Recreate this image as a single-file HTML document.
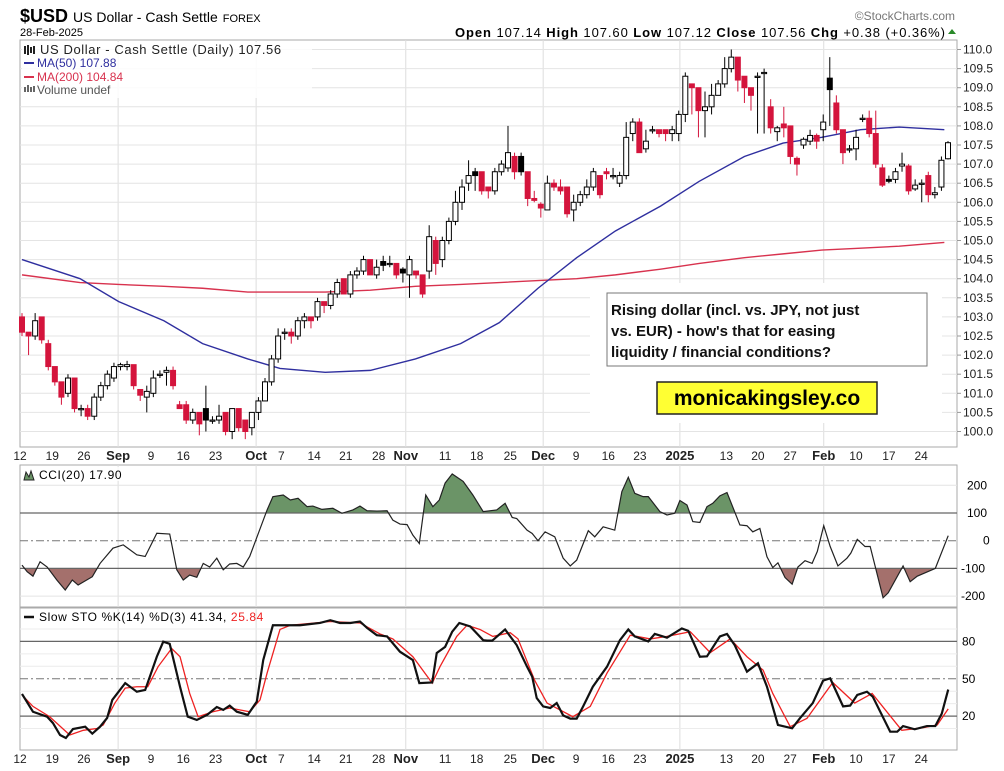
<!DOCTYPE html>
<html><head><meta charset="utf-8"><style>
html,body{margin:0;padding:0;background:#fff;}
svg{display:block;font-family:"Liberation Sans",sans-serif;}
</style></head><body>
<svg id="chart" width="1004" height="771" viewBox="0 0 1004 771" xmlns="http://www.w3.org/2000/svg">
<rect width="1004" height="771" fill="#fff"/>
<text x="20" y="22" font-size="18" font-weight="bold">$USD <tspan font-weight="normal" font-size="14">US Dollar - Cash Settle</tspan> <tspan font-weight="normal" font-size="11">FOREX</tspan></text>
<text x="20" y="36" font-size="11">28-Feb-2025</text>
<text x="955" y="20" font-size="12" fill="#777" text-anchor="end">©StockCharts.com</text>
<text x="455" y="37" font-size="13" textLength="490" lengthAdjust="spacing"><tspan font-weight="bold">Open</tspan> 107.14 <tspan font-weight="bold">High</tspan> 107.60 <tspan font-weight="bold">Low</tspan> 107.12 <tspan font-weight="bold">Close</tspan> 107.56 <tspan font-weight="bold">Chg</tspan> +0.38 (+0.36%)</text>
<path d="M948 34 L952 29 L956 34 Z" fill="#2a8a2a"/>
<g id="main"></g>
<g id="cci"></g>
<g id="sto"></g>
</svg>
<script>
const opens=[103.0,102.6,102.5,103.0,102.3,101.7,101.3,101.0,101.4,100.6,100.6,100.4,100.9,101.2,101.4,101.7,101.7,101.75,101.1,100.9,101.0,101.5,101.55,101.6,100.7,100.7,100.3,100.5,100.6,100.3,100.3,100.5,100.0,100.6,100.3,100.1,100.5,100.8,101.3,101.9,102.6,102.6,102.5,102.9,103.0,103.0,103.4,103.3,103.6,104.0,103.6,104.1,104.2,104.5,104.1,104.45,104.4,104.4,104.25,104.1,104.2,104.1,104.2,105.0,104.5,105.0,105.5,106.0,106.5,106.8,106.8,106.4,106.3,106.8,106.9,107.2,107.2,106.8,106.1,105.95,105.8,106.5,106.4,106.4,105.8,106.0,106.2,106.4,106.7,106.8,106.7,106.5,106.7,107.8,108.1,107.4,107.9,107.9,107.9,107.8,107.8,108.3,109.1,109.0,108.4,108.5,108.8,109.1,109.5,109.8,109.3,109.0,109.3,109.4,108.5,107.85,108.05,108.0,107.15,107.5,107.6,107.75,107.9,109.25,108.6,107.9,107.4,107.4,108.2,108.2,107.8,106.9,106.55,106.6,106.95,106.95,106.35,106.5,106.7,106.2,106.4,107.14];
const closes=[102.6,102.5,102.9,102.4,101.7,101.3,100.9,101.4,100.6,100.6,100.4,100.9,101.2,101.5,101.7,101.75,101.75,101.2,100.95,101.05,101.4,101.5,101.6,101.2,100.6,100.3,100.5,100.2,100.3,100.3,100.4,100.0,100.6,100.1,100.0,100.5,100.8,101.3,101.9,102.5,102.6,102.5,102.9,103.0,102.9,103.4,103.3,103.6,103.9,103.6,104.1,104.2,104.5,104.1,104.3,104.35,104.4,104.1,104.15,104.5,104.1,103.6,105.1,104.4,105.0,105.5,106.0,106.4,106.7,106.7,106.3,106.3,106.8,107.0,107.3,106.8,106.8,106.1,106.05,105.85,106.5,106.4,106.3,105.7,106.0,106.2,106.4,106.8,106.2,106.75,106.7,106.7,107.7,108.1,107.3,107.6,107.9,107.8,107.8,107.9,108.3,109.3,109.0,108.4,108.5,108.8,109.1,109.5,109.8,109.2,109.0,108.8,109.3,109.4,107.95,107.95,107.95,107.2,107.0,107.65,107.75,107.6,108.1,108.95,107.9,107.3,107.4,107.7,108.2,107.8,107.0,106.45,106.6,106.8,107.0,106.3,106.45,106.5,106.2,106.25,107.1,107.56];
const highs=[103.1,102.6,103.1,103.0,102.4,101.7,101.3,101.5,101.4,100.7,100.7,101.0,101.3,101.6,101.8,101.8,101.85,101.75,101.1,101.2,101.6,101.6,101.7,101.7,100.8,100.8,100.6,100.5,101.2,100.4,100.7,100.5,100.6,100.6,100.3,100.5,100.9,101.4,102.0,102.7,102.7,102.7,103.0,103.1,103.0,103.5,103.4,103.7,104.0,104.0,104.2,104.3,104.6,104.5,104.5,104.6,104.6,104.4,104.3,104.6,104.2,104.1,105.4,105.1,105.1,105.6,106.3,106.6,107.1,106.9,106.8,106.4,106.9,107.1,108.0,107.3,107.3,106.8,106.3,106.0,106.7,106.6,106.6,106.4,106.2,106.3,106.6,106.9,106.7,106.9,106.9,106.8,108.1,108.2,108.2,107.9,108.0,107.9,107.9,108.0,108.4,109.4,109.1,109.0,108.9,109.1,109.2,109.8,110.0,109.8,109.3,109.0,109.4,109.5,108.7,108.0,108.5,108.0,107.2,107.7,107.9,107.8,108.3,109.8,108.8,107.9,107.5,107.9,108.3,108.4,108.4,107.0,106.7,106.9,107.3,107.0,106.6,106.6,106.8,106.4,107.2,107.6];
const lows=[102.5,102.0,102.4,102.3,101.6,101.2,100.7,100.9,100.5,100.4,100.3,100.3,100.8,101.1,101.3,101.6,101.6,101.1,100.8,100.5,100.9,101.4,101.2,101.1,100.6,100.2,100.2,99.9,100.0,100.2,100.2,99.9,99.8,100.0,99.8,99.9,100.3,100.8,101.2,101.8,102.4,102.3,102.4,102.7,102.7,102.9,103.1,103.2,103.5,103.6,103.5,104.0,104.1,104.1,104.0,104.2,104.3,104.0,103.9,103.5,104.0,103.5,104.0,104.1,104.3,104.9,105.4,105.8,106.3,106.3,106.2,106.1,106.2,106.7,106.8,106.6,106.7,105.9,106.0,105.6,105.8,106.3,106.2,105.6,105.5,105.9,106.1,106.3,106.1,106.6,106.6,106.4,106.6,107.6,107.3,107.3,107.8,107.7,107.6,107.6,107.6,108.1,108.3,107.7,107.7,108.3,108.9,109.0,109.4,108.9,108.6,108.4,107.8,107.8,107.8,107.6,107.7,107.0,106.7,107.4,107.5,107.4,107.6,108.0,107.8,107.0,107.3,107.1,108.1,107.7,106.9,106.4,106.5,106.5,106.8,106.2,106.3,106.0,106.0,106.1,106.3,107.12];
const filledBlack=[28,55,58,69,76,123,132];
const maDays=[0,9,15,22,28,35,40,47,54,61,68,74,80,86,92,99,105,112,118,124,130,136,143];
const ma50=[104.5,104.0,103.4,102.9,102.3,101.9,101.65,101.55,101.6,101.9,102.3,102.85,103.75,104.55,105.25,105.9,106.55,107.2,107.55,107.7,107.9,107.97,107.9];
const ma200=[104.1,103.9,103.85,103.8,103.75,103.65,103.65,103.65,103.7,103.8,103.85,103.9,103.95,104.0,104.1,104.25,104.4,104.55,104.65,104.75,104.8,104.85,104.95];
const priceTicks=[100.0,100.5,101.0,101.5,102.0,102.5,103.0,103.5,104.0,104.5,105.0,105.5,106.0,106.5,107.0,107.5,108.0,108.5,109.0,109.5,110.0];
const xTickDays=[-0.3,4.7,9.6,14.9,20,25,30,36.3,40.2,45.3,50.2,55.3,59.5,65.6,70.5,75.7,80.8,85.9,90.9,95.8,102,109.2,114.1,119.1,124.3,129.3,134.4,139.4];
const xTickLabels=["12","19","26","Sep","9","16","23","Oct","7","14","21","28","Nov","11","18","25","Dec","9","16","23","2025","13","20","27","Feb","10","17","24"];
const monthTicks=["Sep","Oct","Nov","Dec","2025","Feb"];
const cciDays=[0,0.8,1.7,2.8,3.9,5.4,6.7,7.8,8.7,10.9,12.1,14.1,15.7,17.8,19.1,20.9,22.9,24,25,26,27.1,28.1,29.1,30.2,31.2,32.2,33.3,34.3,35.3,38,38.9,40.5,41.6,42.8,44.2,45.1,46.5,48.2,49.6,51.3,52.4,53.5,55,56.6,57.5,58.6,59.7,60.6,61.6,62.6,63.7,64.7,65.6,66.7,68.4,69.9,71.5,73.6,74.9,76,76.7,78.3,79.1,80,81.1,82.6,83.9,85,86,87.8,88.8,90.1,91.9,93,94,95,96.3,97.1,98.9,100,101.2,102,103.1,104,105.1,106.2,107.1,108.2,109.3,111.3,112.4,113.3,114.4,115.5,116.4,117.2,118.3,119.4,120.3,121.4,122.5,123.3,124.3,125.3,126.5,127.9,128.5,129.5,130.7,131.5,133.5,134.3,136.6,137.7,138.8,141.6,143.6];
const cciVals=[-88,-112,-128,-76,-95,-142,-178,-142,-160,-130,-82,-27,-15,-51,-57,27,24,-105,-142,-124,-132,-82,-95,-63,-105,-84,-82,-95,-57,111,159,165,147,153,123,125,113,117,99,111,125,108,107,108,74,60,58,20,-10,165,123,147,208,241,214,165,105,111,135,84,80,38,26,0,32,14,-63,-91,-70,36,14,50,38,177,229,171,159,159,105,93,99,145,129,69,66,123,135,162,174,57,54,32,44,-58,-97,-80,-133,-157,-95,-72,-82,-39,54,-21,-91,-63,-45,5,-21,-21,-206,-188,-91,-148,-128,-100,18];
const kDays=[0,1.7,3.9,4.8,5.9,6.8,7.9,9.8,10.9,12.1,13.2,14,16,17.8,19.1,20.9,21.9,22.9,24.5,25.7,27.1,28.7,30.2,31.2,32.2,33.3,35,36.4,37.4,38.9,40.5,43.1,46.2,47.8,49.3,50.9,52.4,53.5,55,56.6,58.6,60.6,61.6,63.6,64.3,65.6,66.7,67.8,69.5,71.5,72.1,72.9,74.9,76.7,78.3,79.1,79.8,80.8,81.9,82.9,83.9,85,86,87,88.5,90.7,92.7,94,95,97.1,98.1,100,102.3,103.3,105.1,106.2,108.2,109.3,110.5,112.4,114.1,115.5,117.2,119.4,120.6,122.6,124.2,125.3,127.3,128.4,129.5,131,131.9,134.6,135.7,136.6,138.4,140.3,141.6,142.6,143.6];
const kVals=[37.8,23.5,19.5,14.4,4.8,2.4,9.6,11.5,5.9,11.5,18.5,33,46.5,39.6,41,67.7,79.8,78,43.6,19.5,16.9,21,27.3,25,28.4,23.5,21,31.6,65,93,93,93,94.8,97,94.8,94.8,96,90.8,85,84,71.7,65,46.5,47,70.7,75.6,87.8,94.8,92,81,80.6,80.6,89.6,77,59.7,51.7,34.5,27.8,26.5,30.5,20.6,18,18,27.8,43.6,59.7,81,89.6,84,80,86,83,90.4,88.5,67.7,68,84,86,77,55.7,62.4,43.6,12.9,10.2,18.2,30.5,48.5,50.3,27.8,28.4,37,39.6,35.6,7.5,7.5,12,9.4,12,12,22,41.34];
const dDays=[0,1.7,4.3,7.4,9.5,11.6,12.6,14.4,16,17.8,19.5,21.1,23.2,24.5,26,27.3,29.6,32.2,35.3,36.9,38,40,41.6,47.8,52.4,55.5,57.5,60.6,63.6,64.8,67.4,69,71,73,75.7,76.9,79.5,81.4,85.4,88.1,90.7,94.3,97.4,100,103.6,106.7,109.8,112.4,114.9,116.4,119.1,121.7,125.7,129.1,131.8,136.4,139.7,141.9,143.6];
const dVals=[37,27.8,19.5,4.8,8.6,10,12.9,30.5,42.5,43.6,43.6,59.7,74.3,67.7,38.2,19.5,23.5,26.5,23.5,33,54.6,89.6,93,96,94.8,86,82,67.7,46.5,59.7,84,93,89.6,84,87,82,48.5,30.5,19.5,27.8,54.6,85,82,84,87.8,71,82,67.7,56.9,38.2,11.5,18.2,47,30.5,38.2,8.6,10.7,12.9,25.84];

const NS="http://www.w3.org/2000/svg";
const L=20,R=957,X0=22;
const dayStep=6.45;
const candleStep=(948-X0)/(closes.length-1);
const xDay=d=>X0+d*dayStep;
const xCandle=i=>X0+i*candleStep;
const yPrice=p=>49.5+(110-p)*38.2;
const yCci=v=>540.7-v*0.277;
const ySto=v=>741-v*1.245;
function mk(parent,tag,attrs,text){const e=document.createElementNS(NS,tag);for(const k in attrs)e.setAttribute(k,attrs[k]);if(text!==undefined)e.textContent=text;parent.appendChild(e);return e;}
const main=document.getElementById('main'),cci=document.getElementById('cci'),sto=document.getElementById('sto');

function panelFrame(g,top,bot,name){
  const r=mk(g,'rect',{x:L,y:top,width:R-L,height:bot-top,fill:'none',stroke:'#aaa','stroke-width':1});
  
  
  monthTicks.forEach(m=>{const i=xTickLabels.indexOf(m);const x=xDay(xTickDays[i]);
    const v=mk(g,'line',{x1:x,x2:x,y1:top,y2:bot,stroke:'#ddd','stroke-width':1});
    
    });
}
function xAxis(g,y,name){
  xTickLabels.forEach((t,i)=>{const bold=monthTicks.includes(t);
    const e=mk(g,'text',{x:xDay(xTickDays[i]),y:y,'font-size':bold?13:12,'font-weight':bold?'bold':'normal','text-anchor':'middle',fill:'#222'},t);
    
    });
}
// MAIN PANEL
panelFrame(main,40,447,'price-panel');
priceTicks.forEach(p=>{const y=yPrice(p);
  const g=mk(main,'line',{x1:L,x2:R,y1:y,y2:y,stroke:'#e4e4e4'});
  
  
  const t=mk(main,'text',{x:963,y:y+4,'font-size':12,fill:'#222'},p.toFixed(1));
  
  
  mk(main,'line',{x1:957,x2:961,y1:y,y2:y,stroke:'#999'});
});
[{vals:ma200,c:'#d8324e',n:'ma200-line'},{vals:ma50,c:'#2f2f9f',n:'ma50-line'}].forEach(s=>{
  const pl=mk(main,'polyline',{points:maDays.map((d,i)=>xDay(d)+','+yPrice(s.vals[i])).join(' '),fill:'none',stroke:s.c,'stroke-width':1.4});
  
  
});
closes.forEach((c,i)=>{
  const o=opens[i],x=xCandle(i);const up=c>=o;const black=filledBlack.includes(i);
  const col=black?'#000':(up?'#000':'#d4143c');
  const w=mk(main,'line',{x1:x,x2:x,y1:yPrice(highs[i]),y2:yPrice(lows[i]),stroke:col,'stroke-width':1});
  
  
  const top=yPrice(Math.max(o,c)),h=Math.max(1.2,Math.abs(yPrice(o)-yPrice(c)));
  const b=mk(main,'rect',{x:x-2.5,y:top,width:5,height:h,fill:black?'#000':(up?'#fff':'#d4143c'),stroke:col,'stroke-width':1});
  
  
});
// annotations
mk(main,'rect',{x:590,y:283,width:352,height:140,fill:'#fff'});
const ab=mk(main,'rect',{x:607,y:293,width:320,height:73,fill:'#fff',stroke:'#777','stroke-width':1});


["Rising dollar (incl. vs. JPY, not just","vs. EUR) - how's that for easing","liquidity / financial conditions?"].forEach((t,i)=>{
  const e=mk(main,'text',{x:611,y:315+i*21,'font-size':15,'font-weight':'bold',fill:'#111'},t);
  
  });
const yb=mk(main,'rect',{x:657,y:382,width:220,height:32,fill:'#ffff33',stroke:'#222','stroke-width':1.5});


const yt=mk(main,'text',{x:767,y:405,'font-size':21,'font-weight':'bold','text-anchor':'middle'},'monicakingsley.co');


// legend
mk(main,'rect',{x:22,y:42,width:290,height:56,fill:'#fff',opacity:0.85});
const lg=[["US Dollar - Cash Settle (Daily) 107.56","#222",54],["MA(50) 107.88","#2f2f9f",67],["MA(200) 104.84","#d8324e",81],["Volume undef","#555",94]];
lg.forEach((l,i)=>{const e=mk(main,'text',{x:i==0?40:37,y:l[2],'font-size':i==0?13:12,fill:l[1],'letter-spacing':i==0?0.6:0},l[0]);
  
  
  if(i==1||i==2)mk(main,'line',{x1:24,x2:34,y1:l[2]-4,y2:l[2]-4,stroke:l[1],'stroke-width':2});});
mk(main,'path',{d:'M25 46 v8 M28 45 v10 M31 47 v6 M34 46 v8',stroke:'#222','stroke-width':2});
mk(main,'path',{d:'M25 92 v-5 M28 92 v-7 M31 92 v-5 M34 92 v-6',stroke:'#666','stroke-width':2});
xAxis(main,460,'x-tick-label-top');

// CCI PANEL
panelFrame(cci,465,607,'cci-panel');
[200,-200].forEach(v=>mk(cci,'line',{x1:L,x2:R,y1:yCci(v),y2:yCci(v),stroke:'#e4e4e4'}));
const cciPts=cciDays.map((d,i)=>[xDay(d),yCci(cciVals[i])]);
const defs=mk(cci,'defs',{});
const c1=mk(defs,'clipPath',{id:'clipTop'});mk(c1,'rect',{x:L,y:465,width:R-L,height:yCci(100)-465});
const c2=mk(defs,'clipPath',{id:'clipBot'});mk(c2,'rect',{x:L,y:yCci(-100),width:R-L,height:607-yCci(-100)});
const ptsStr=cciPts.map(p=>p.join(',')).join(' ');
const f1=mk(cci,'polygon',{points:cciPts[0][0]+','+yCci(100)+' '+ptsStr+' '+cciPts[cciPts.length-1][0]+','+yCci(100),fill:'#6b9467','clip-path':'url(#clipTop)'});


const f2=mk(cci,'polygon',{points:cciPts[0][0]+','+yCci(-100)+' '+ptsStr+' '+cciPts[cciPts.length-1][0]+','+yCci(-100),fill:'#a4706c','clip-path':'url(#clipBot)'});


[100,-100].forEach(v=>mk(cci,'line',{x1:L,x2:R,y1:yCci(v),y2:yCci(v),stroke:'#666','stroke-width':1.2}));
mk(cci,'line',{x1:L,x2:R,y1:yCci(0),y2:yCci(0),stroke:'#777','stroke-dasharray':'8,3,2,3'});
const cl=mk(cci,'polyline',{points:ptsStr,fill:'none',stroke:'#222','stroke-width':1.2});


[200,100,0,-100,-200].forEach(v=>{const e=mk(cci,'text',{x:v<0?961:(v==0?983:967),y:yCci(v)+4,'font-size':12},String(v));
  
  });
mk(cci,'rect',{x:22,y:467,width:150,height:14,fill:'#fff',opacity:0.8});
mk(cci,'path',{d:'M24 480 L26 472 L29 477 L31 471 L34 480 Z',fill:'#6b9467',stroke:'#222','stroke-width':1});
const ct=mk(cci,'text',{x:39,y:479,'font-size':12,'letter-spacing':0.6},'CCI(20) 17.90');



// STO PANEL
panelFrame(sto,608,750,'sto-panel');
[10,30,40,60,70,90].forEach(v=>mk(sto,'line',{x1:L,x2:R,y1:ySto(v),y2:ySto(v),stroke:'#ececec'}));
[80,20].forEach(v=>mk(sto,'line',{x1:L,x2:R,y1:ySto(v),y2:ySto(v),stroke:'#666','stroke-width':1.2}));
mk(sto,'line',{x1:L,x2:R,y1:ySto(50),y2:ySto(50),stroke:'#777','stroke-dasharray':'8,3,2,3'});
const dl=mk(sto,'polyline',{points:dDays.map((d,i)=>xDay(d)+','+ySto(dVals[i])).join(' '),fill:'none',stroke:'#ee2222','stroke-width':1.3});


const kl=mk(sto,'polyline',{points:kDays.map((d,i)=>xDay(d)+','+ySto(kVals[i])).join(' '),fill:'none',stroke:'#111','stroke-width':2.2});


[80,50,20].forEach(v=>{const e=mk(sto,'text',{x:962,y:ySto(v)+4,'font-size':12},String(v));
  
  });
mk(sto,'line',{x1:24,x2:34,y1:617,y2:617,stroke:'#111','stroke-width':2.5});
const st=mk(sto,'text',{x:39,y:621,'font-size':12,'letter-spacing':0.6},'Slow STO %K(14) %D(3) 41.34, ');


mk(st,'tspan',{fill:'#ee2222'},'25.84');
xAxis(sto,763,'x-tick-label-bottom');
</script>
</body></html>
